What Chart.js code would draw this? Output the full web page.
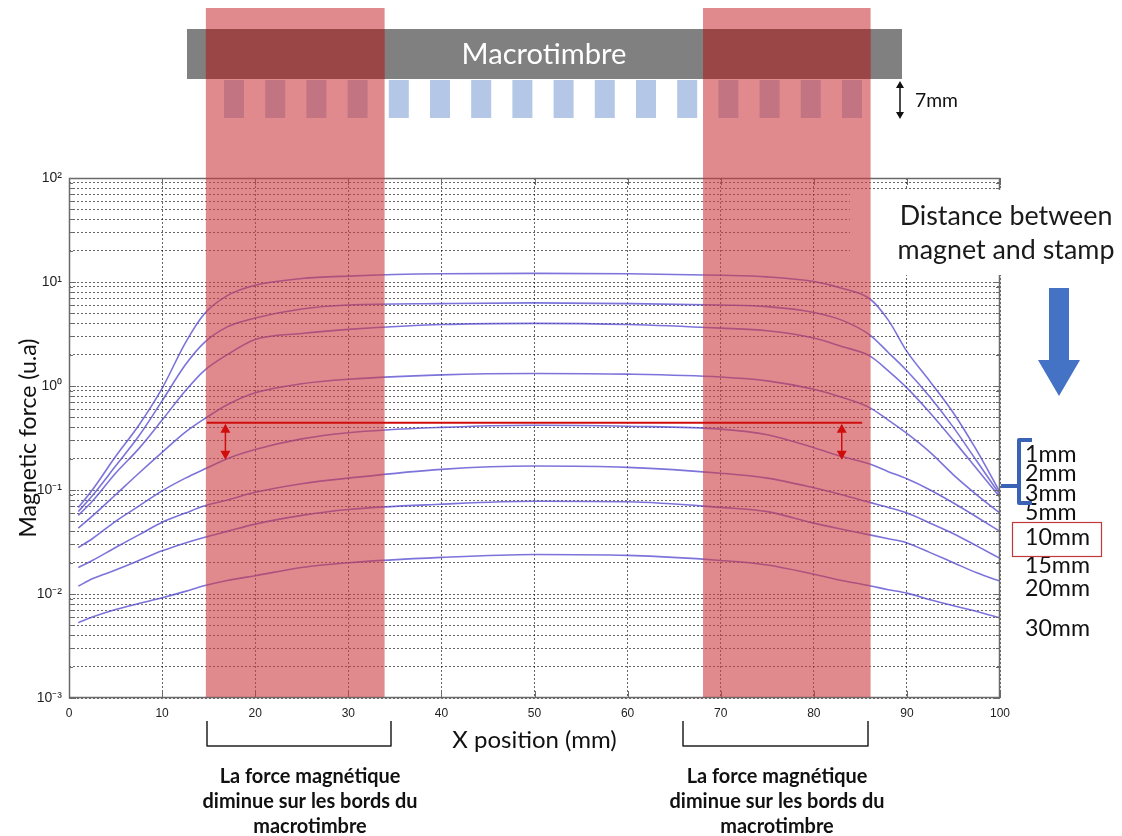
<!DOCTYPE html>
<html>
<head>
<meta charset="utf-8">
<script src="https://cdn.jsdelivr.net/npm/chart.js@4.4.1/dist/chart.umd.min.js"></script>
<style>
  html, body { margin: 0; padding: 0; background: #fff; }
  #chart { display: block; }
</style>
</head>
<body>
<canvas id="chart" width="1122" height="836"></canvas>
<script>
// x positions along the stamp (mm)
const xPositions = [1, 2.5, 5, 7.5, 10, 12.5, 14.5, 17, 20, 25, 30, 40, 50, 60, 70, 75, 80, 83, 86, 88, 90, 92.5, 95, 97.5, 100];

// magnetic force (u.a), one array per magnet / stamp distance
const force1mm  = [0.068, 0.10, 0.21, 0.42, 0.95, 2.6, 4.9, 7.4, 9.3, 10.8, 11.4, 12.0, 12.1, 12.0, 11.6, 11.2, 10.1, 8.7, 6.9, 4.3, 2.15, 1.1, 0.55, 0.24, 0.095];
const force2mm  = [0.062, 0.088, 0.17, 0.33, 0.72, 1.6, 2.6, 3.7, 4.5, 5.5, 6.0, 6.2, 6.3, 6.2, 6.0, 5.8, 5.1, 4.3, 3.1, 2.1, 1.4, 0.78, 0.40, 0.19, 0.09];
const force3mm  = [0.057, 0.078, 0.145, 0.25, 0.47, 0.9, 1.4, 2.0, 2.8, 3.2, 3.5, 3.9, 4.0, 3.9, 3.6, 3.4, 2.9, 2.4, 1.95, 1.4, 0.96, 0.55, 0.30, 0.16, 0.085];
const force5mm  = [0.043, 0.056, 0.09, 0.145, 0.23, 0.36, 0.48, 0.66, 0.86, 1.05, 1.16, 1.28, 1.32, 1.30, 1.22, 1.12, 0.93, 0.78, 0.62, 0.47, 0.35, 0.23, 0.14, 0.09, 0.06];
const force10mm = [0.028, 0.034, 0.05, 0.07, 0.098, 0.13, 0.158, 0.20, 0.245, 0.31, 0.355, 0.40, 0.42, 0.41, 0.385, 0.34, 0.255, 0.21, 0.178, 0.15, 0.128, 0.10, 0.075, 0.055, 0.040];
const force15mm = [0.018, 0.021, 0.028, 0.037, 0.049, 0.06, 0.07, 0.08, 0.095, 0.115, 0.13, 0.158, 0.17, 0.165, 0.145, 0.13, 0.105, 0.09, 0.076, 0.068, 0.06, 0.048, 0.038, 0.029, 0.022];
const force20mm = [0.0119, 0.014, 0.017, 0.021, 0.026, 0.031, 0.035, 0.040, 0.047, 0.057, 0.065, 0.073, 0.078, 0.077, 0.068, 0.062, 0.048, 0.042, 0.037, 0.034, 0.031, 0.025, 0.020, 0.016, 0.0133];
const force30mm = [0.0053, 0.006, 0.0071, 0.0081, 0.0092, 0.0106, 0.012, 0.0135, 0.015, 0.018, 0.020, 0.0225, 0.024, 0.0235, 0.021, 0.019, 0.0155, 0.0135, 0.012, 0.011, 0.0102, 0.0088, 0.0077, 0.0068, 0.0059];

const distanceLabels = ['1mm', '2mm', '3mm', '5mm', '10mm', '15mm', '20mm', '30mm'];
const forceSeries = [force1mm, force2mm, force3mm, force5mm, force10mm, force15mm, force20mm, force30mm];

// y tick labels (powers of ten)
const yTickText = { '-3': '10⁻³', '-2': '10⁻²', '-1': '10⁻¹', '0': '10⁰', '1': '10¹', '2': '10²' };
const xTickStep = 10;

// edge zones of the macrotimbre (mm) and the 10mm reference level
const edgeZones = [[14.7, 33.9], [68.1, 86.1]];
const refLevel = 0.443;
const refLineRange = [14.8, 85.2];
const dropArrows = [16.8, 83.0];
const dropLevel = 0.195;

const yGridValues = [];
for (let e = -3; e <= 1; e++) {
  for (let m = 1; m <= 9; m++) yGridValues.push(Number((m * Math.pow(10, e)).toPrecision(3)));
}
yGridValues.push(100);

Chart.defaults.font.family = '"Liberation Sans", Arial, sans-serif';

function fitFont(ctx, text, width, weight, family) {
  ctx.font = weight + ' 100px ' + family;
  return 100 * width / ctx.measureText(text).width;
}

function arrowHead(ctx, x, y, dir, w, h) {
  ctx.beginPath();
  ctx.moveTo(x, y);
  ctx.lineTo(x - w / 2, y - dir * h);
  ctx.lineTo(x + w / 2, y - dir * h);
  ctx.closePath();
  ctx.fill();
}

const decorations = {
  id: 'decorations',
  afterDraw(chart) {
    const ctx = chart.ctx;
    const xs = chart.scales.x, ys = chart.scales.y;
    const a = chart.chartArea;
    ctx.save();

    // matlab style frame + inner ticks
    ctx.strokeStyle = '#6a6a6a';
    ctx.lineWidth = 1.5;
    ctx.strokeRect(a.left + 0.5, a.top + 0.5, a.right - a.left - 1, a.bottom - a.top - 1);
    ctx.lineWidth = 1;
    ctx.beginPath();
    ys.ticks.forEach(t => {
      const y = Math.round(ys.getPixelForValue(t.value)) + 0.5;
      const e = Math.log10(t.value);
      const len = Math.abs(e - Math.round(e)) < 1e-9 ? 7 : 4;
      ctx.moveTo(a.left, y); ctx.lineTo(a.left + len, y);
      ctx.moveTo(a.right, y); ctx.lineTo(a.right - len, y);
    });
    xs.ticks.forEach(t => {
      const x = Math.round(xs.getPixelForValue(t.value)) + 0.5;
      ctx.moveTo(x, a.bottom); ctx.lineTo(x, a.bottom - 7);
      ctx.moveTo(x, a.top); ctx.lineTo(x, a.top + 7);
    });
    ctx.stroke();

    // white box behind the "Distance between..." caption
    ctx.fillStyle = '#fff';
    ctx.fillRect(850, 190, 160, 85);

    // macrotimbre bar and stamps
    ctx.fillStyle = '#808080';
    ctx.fillRect(187, 29, 715, 50);
    ctx.fillStyle = '#b4c7e7';
    for (let i = 0; i < 16; i++) {
      const sx = xs.getPixelForValue(16.65 + i * 4.425);
      ctx.fillRect(sx, 80, 20, 38);
    }

    // red edge zones
    edgeZones.forEach(z => {
      const x0 = xs.getPixelForValue(z[0]), x1 = xs.getPixelForValue(z[1]);
      ctx.fillStyle = 'rgba(205,60,65,0.6)';
      ctx.fillRect(x0, 8, x1 - x0, a.bottom - 9);
      ctx.fillStyle = '#9a4647';
      ctx.fillRect(x0, 29, x1 - x0, 50);
    });

    // bar label
    ctx.fillStyle = '#fff';
    ctx.textAlign = 'center';
    ctx.textBaseline = 'middle';
    let s = fitFont(ctx, 'Macrotimbre', 165, 'normal', 'Lato');
    ctx.font = s + 'px Lato';
    ctx.fillText('Macrotimbre', 544, 55);

    // 7mm arrow
    ctx.strokeStyle = '#111';
    ctx.fillStyle = '#111';
    ctx.lineWidth = 1.5;
    ctx.beginPath(); ctx.moveTo(900, 86); ctx.lineTo(900, 114); ctx.stroke();
    arrowHead(ctx, 900, 81, -1, 8, 7);
    arrowHead(ctx, 900, 119, 1, 8, 7);
    ctx.textAlign = 'left';
    s = fitFont(ctx, '7mm', 43, 'normal', 'Lato');
    ctx.font = s + 'px Lato';
    ctx.fillText('7mm', 915, 101);

    // reference level line and drop arrows
    const yRef = ys.getPixelForValue(refLevel);
    const yDrop = ys.getPixelForValue(dropLevel);
    ctx.strokeStyle = '#d00d0d';
    ctx.fillStyle = '#d00d0d';
    ctx.lineWidth = 2;
    ctx.beginPath();
    ctx.moveTo(xs.getPixelForValue(refLineRange[0]), yRef);
    ctx.lineTo(xs.getPixelForValue(refLineRange[1]), yRef);
    ctx.stroke();
    dropArrows.forEach(v => {
      const x = xs.getPixelForValue(v);
      ctx.lineWidth = 1.5;
      ctx.beginPath(); ctx.moveTo(x, yRef + 6); ctx.lineTo(x, yDrop - 6); ctx.stroke();
      arrowHead(ctx, x, yRef + 1, -1, 10, 9);
      arrowHead(ctx, x, yDrop, 1, 10, 9);
    });

    // caption
    ctx.fillStyle = '#1a1a1a';
    ctx.textAlign = 'center';
    s = fitFont(ctx, 'magnet and stamp', 217, 'normal', 'Lato');
    ctx.font = s + 'px Lato';
    ctx.fillText('Distance between', 1006, 216);
    ctx.fillText('magnet and stamp', 1006, 250);

    // big blue arrow
    ctx.fillStyle = '#4472c4';
    ctx.beginPath();
    ctx.moveTo(1049, 288); ctx.lineTo(1069, 288); ctx.lineTo(1069, 360);
    ctx.lineTo(1080, 360); ctx.lineTo(1059, 396); ctx.lineTo(1038, 360);
    ctx.lineTo(1049, 360); ctx.closePath();
    ctx.fill();

    // distance labels
    ctx.fillStyle = '#111';
    ctx.textAlign = 'left';
    s = fitFont(ctx, '10mm', 65, 'normal', 'Lato');
    ctx.font = s + 'px Lato';
    const labelY = [455, 474, 494, 513, 538, 566, 589, 629];
    distanceLabels.forEach((t, i) => ctx.fillText(t, 1025, labelY[i]));
    ctx.strokeStyle = '#c0393b';
    ctx.lineWidth = 1.2;
    ctx.strokeRect(1012.5, 522.5, 89, 34);

    // blue bracket pointing at the converging curves
    ctx.strokeStyle = '#3a62b5';
    ctx.lineWidth = 4;
    ctx.lineJoin = 'round';
    ctx.beginPath();
    ctx.moveTo(1032, 440); ctx.lineTo(1019, 440); ctx.lineTo(1019, 503); ctx.lineTo(1032, 503);
    ctx.moveTo(1019, 486); ctx.lineTo(1001, 486);
    ctx.stroke();

    // bottom brackets + notes
    ctx.strokeStyle = '#222';
    ctx.lineWidth = 1.5;
    [[207, 391], [683, 868]].forEach(b => {
      ctx.beginPath();
      ctx.moveTo(b[0], 721); ctx.lineTo(b[0], 746); ctx.lineTo(b[1], 746); ctx.lineTo(b[1], 721);
      ctx.stroke();
    });
    ctx.fillStyle = '#111';
    ctx.textAlign = 'center';
    s = fitFont(ctx, 'diminue sur les bords du', 215, 'bold', 'Lato');
    ctx.font = 'bold ' + s + 'px Lato';
    [310, 777].forEach(cx => {
      ctx.fillText('La force magnétique', cx, 777);
      ctx.fillText('diminue sur les bords du', cx, 802);
      ctx.fillText('macrotimbre', cx, 827);
    });

    ctx.restore();
  }
};

const datasets = distanceLabels.map((label, k) => ({
  label: label,
  data: xPositions.map((x, i) => ({ x: x, y: forceSeries[k][i] })),
  borderColor: 'rgba(80,70,205,0.75)',
  borderWidth: 1.6,
  pointRadius: 0,
  fill: false,
  cubicInterpolationMode: 'monotone'
}));

new Chart(document.getElementById('chart'), {
  type: 'line',
  data: { datasets: datasets },
  options: {
    responsive: false,
    animation: false,
    devicePixelRatio: 1,
    layout: { padding: { top: 178, right: 122, left: 0, bottom: 0 } },
    plugins: { legend: { display: false }, tooltip: { enabled: false } },
    scales: {
      x: {
        type: 'linear',
        min: 0,
        max: 100,
        afterFit: (scale) => { scale.height = 138; },
        ticks: { stepSize: xTickStep, padding: 8, maxRotation: 0, color: '#222', font: { size: 12 } },
        grid: { color: 'rgba(0,0,0,0.6)', drawTicks: false },
        border: { display: false, dash: [2, 2] },
        title: { display: true, text: 'X position (mm)', color: '#111', font: { family: 'Lato', size: 24 }, padding: { top: 0, bottom: 81 } }
      },
      y: {
        type: 'logarithmic',
        min: 0.001,
        max: 100,
        afterFit: (scale) => { scale.width = 69; },
        afterBuildTicks: (scale) => { scale.ticks = yGridValues.map(v => ({ value: v })); },
        ticks: {
          autoSkip: false,
          padding: 7,
          color: '#222',
          font: { size: 14 },
          callback: (v) => {
            const e = Math.log10(v);
            return Math.abs(e - Math.round(e)) < 1e-9 ? yTickText[String(Math.round(e))] : '';
          }
        },
        grid: { color: 'rgba(0,0,0,0.6)', drawTicks: false },
        border: { display: false, dash: [2, 2] },
        title: { display: true, text: 'Magnetic force (u.a)', color: '#111', font: { family: 'Lato', size: 23 }, padding: { top: 15, bottom: 0 } }
      }
    }
  },
  plugins: [decorations]
});
</script>
</body>
</html>
